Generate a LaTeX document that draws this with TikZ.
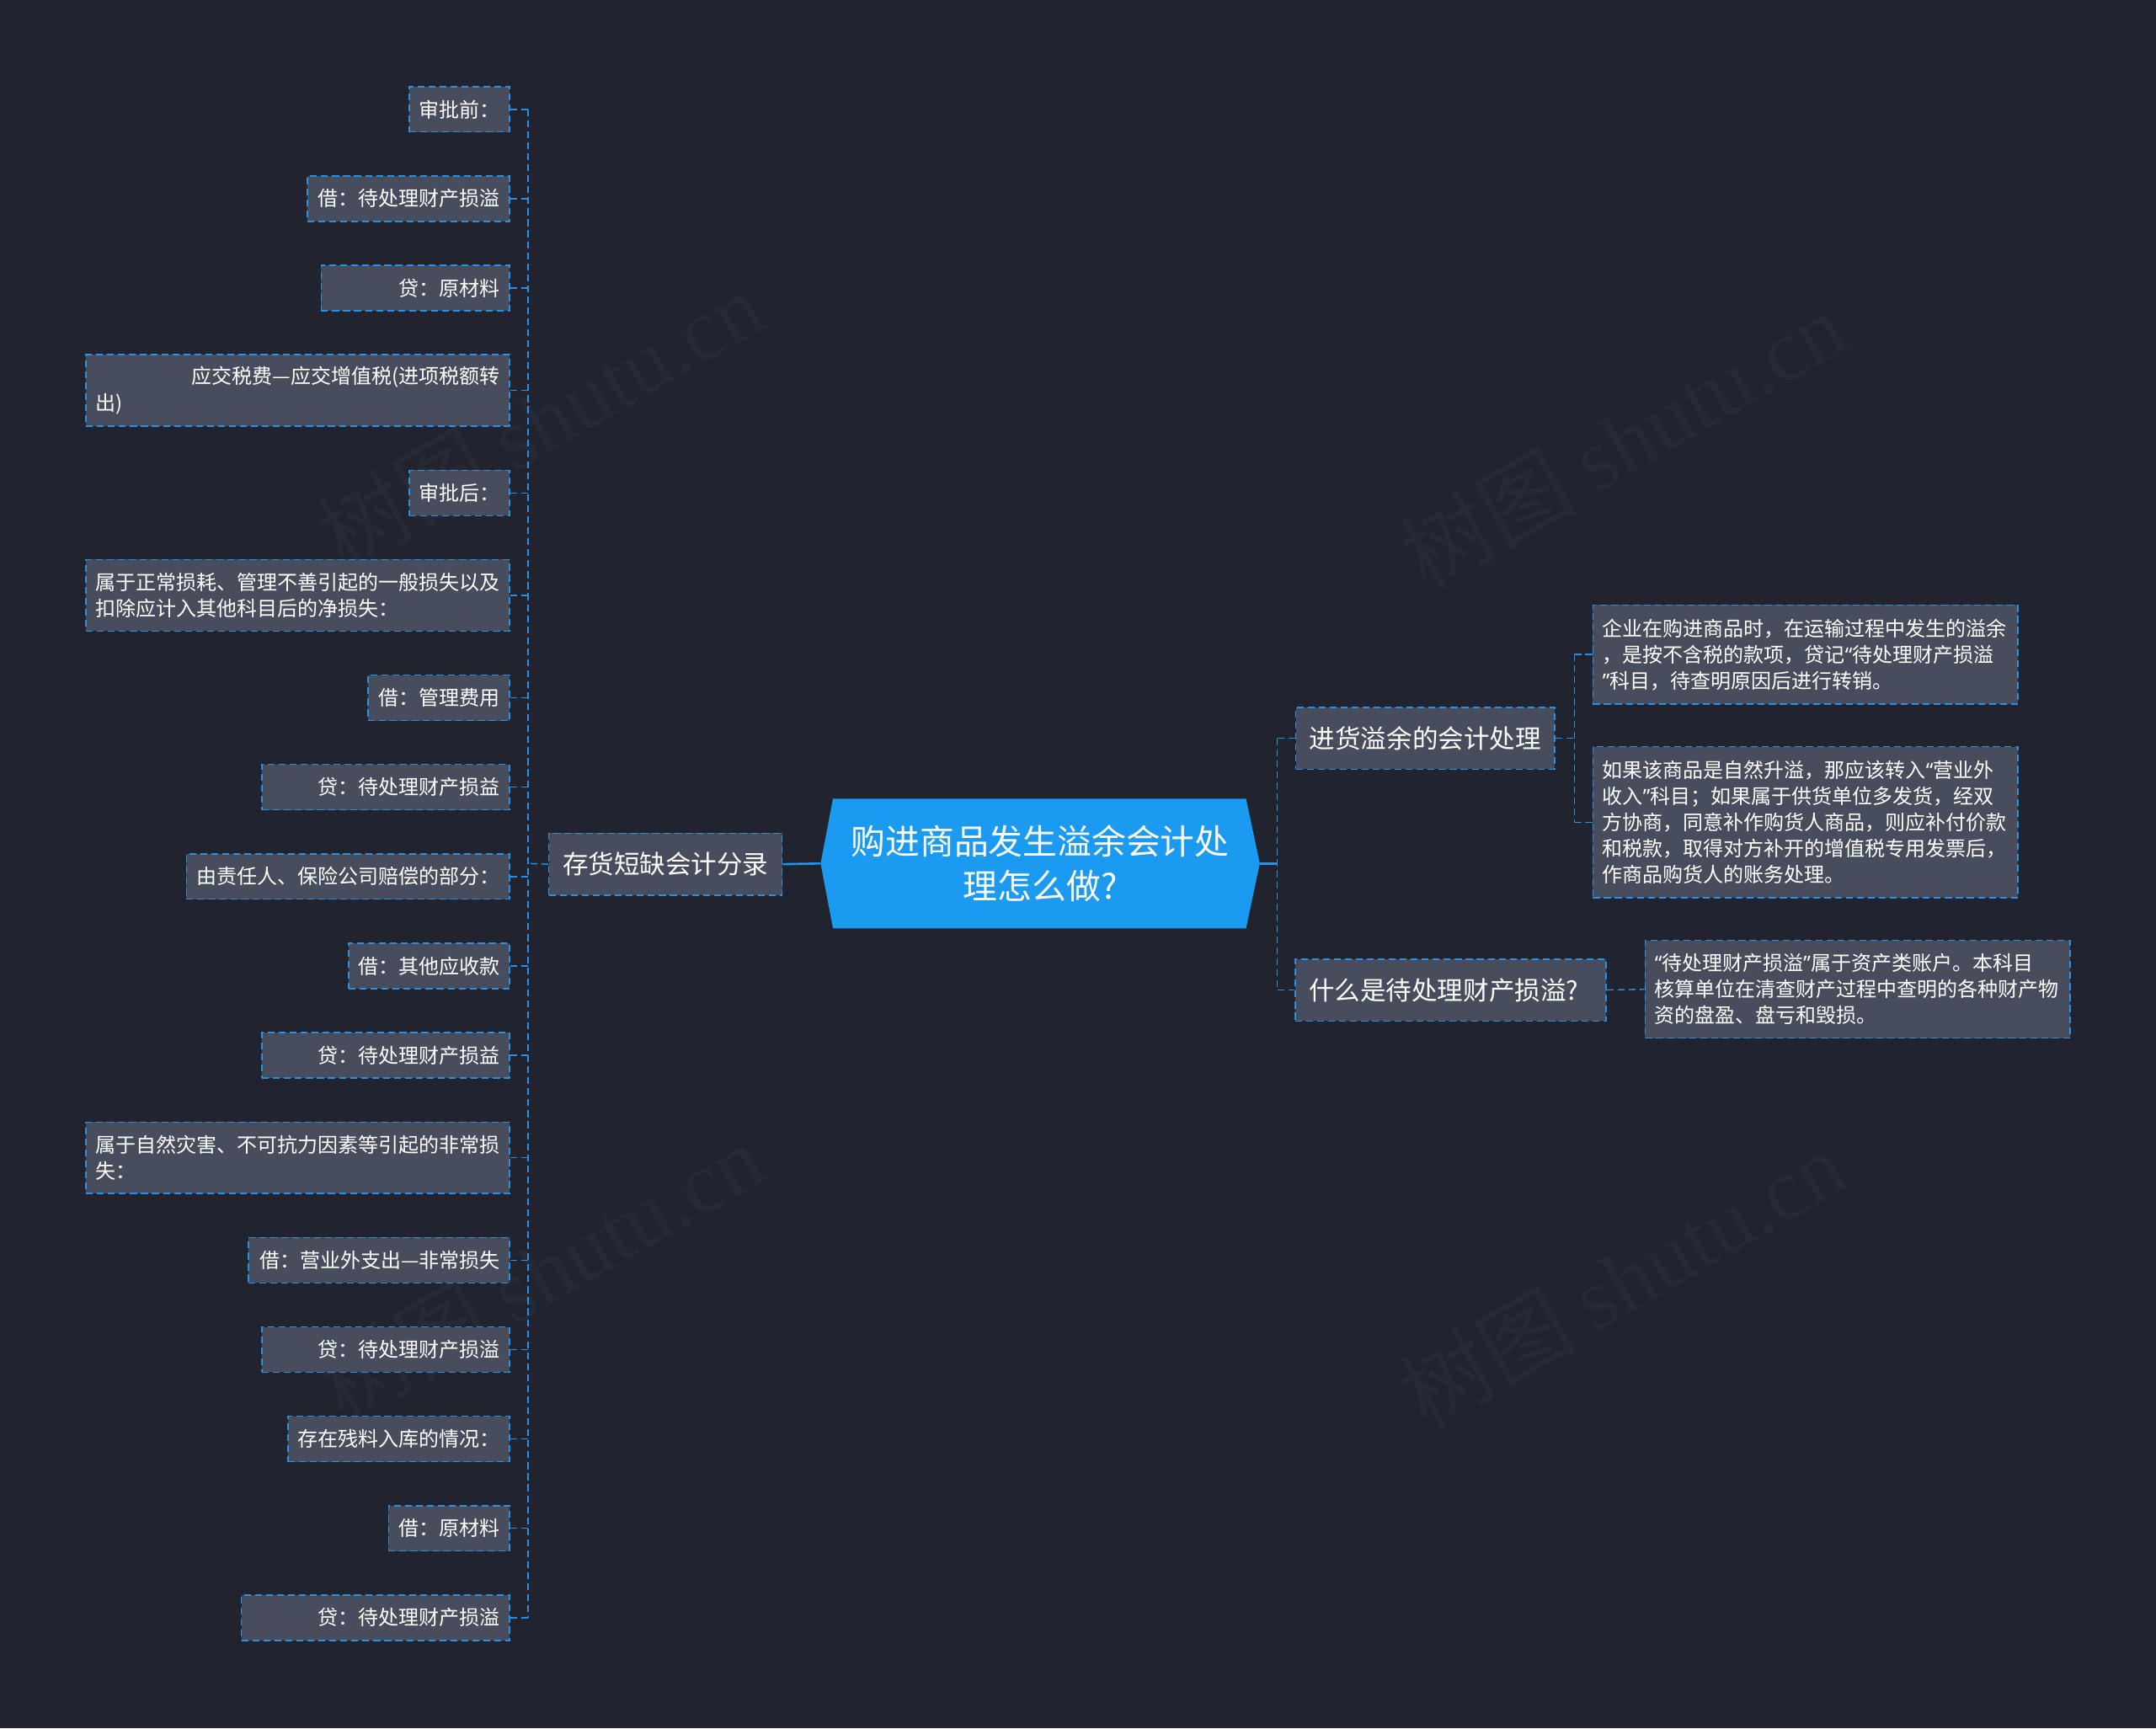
\documentclass[tikz,border=0pt]{standalone}
\usepackage{fontspec}
\newfontfamily\cjk{Noto Sans CJK SC}
\newfontfamily\markfont{Liberation Serif}
\newfontfamily\latinq{Noto Sans}
\newcommand{\qopen}{{\latinq “}}
\newcommand{\qclose}{{\latinq ”}}
\usepackage{tikz}
\usetikzlibrary{backgrounds}
\usepackage{xcolor}
\definecolor{pagedark}{RGB}{33, 36, 47}
\definecolor{cardgray}{RGB}{71, 77, 92}
\definecolor{linkblue}{RGB}{38, 145, 230}
\definecolor{rootblue}{RGB}{26, 154, 240}
\definecolor{markgray}{RGB}{38, 42, 54}

\begin{document}
\begin{tikzpicture}[x=1pt, y=-1pt, every node/.style={text=white},
    leafbox/.style={draw=linkblue, fill=cardgray, line width=0.9pt,
      dash pattern=on 5pt off 3pt, inner xsep=7pt, inner ysep=6pt,
      minimum height=33pt, font=\cjk\fontsize{14.7}{19}\selectfont},
    branchbox/.style={leafbox, inner xsep=10pt, minimum height=45pt,
      font=\cjk\fontsize{18.7}{24}\selectfont},
    rootbox/.style={minimum width=319pt, minimum height=94pt, inner sep=0pt,
      align=center, font=\cjk\fontsize{25}{33}\selectfont},
    markbox/.style={rotate=30, text=markgray, font=\fontsize{64}{64}\selectfont},
    link/.style={draw=linkblue, line width=0.9pt, dash pattern=on 5pt off 3pt},
    rootlink/.style={draw=linkblue, line width=1.6pt}]
  \useasboundingbox (0,0) rectangle (1568,1257);

  % Root
  \node[rootbox] (root) at (756.5,628) {购进商品发生溢余会计处\\理怎么做?};

  % Left branch
  \node[branchbox] (stock) at (484,628.5) {存货短缺会计分录};

  \node[leafbox, anchor=east, text width=59pt, align=right] (l1) at (371,79.5) {审批前：};
  \node[leafbox, anchor=east, text width=133pt, align=right] (l2) at (371,144.5) {借：待处理财产损溢};
  \node[leafbox, anchor=east, text width=123pt, align=right] (l3) at (371,209.5) {贷：原材料};
  \node[leafbox, anchor=east, text width=294pt, align=left, minimum height=52pt] (l4) at (371,284)
    {\hfill 应交税费—应交增值税(进项税额转\\出)};
  \node[leafbox, anchor=east, text width=59pt, align=right] (l5) at (371,358.5) {审批后：};
  \node[leafbox, anchor=east, text width=294pt, align=left, minimum height=52pt] (l6) at (371,433)
    {属于正常损耗、管理不善引起的一般损失以及\\扣除应计入其他科目后的净损失：};
  \node[leafbox, anchor=east, text width=89pt, align=right] (l7) at (371,507.5) {借：管理费用};
  \node[leafbox, anchor=east, text width=166pt, align=right] (l8) at (371,572.5) {贷：待处理财产损益};
  \node[leafbox, anchor=east, text width=221pt, align=right] (l9) at (371,637.5) {由责任人、保险公司赔偿的部分：};
  \node[leafbox, anchor=east, text width=103pt, align=right] (l10) at (371,702.5) {借：其他应收款};
  \node[leafbox, anchor=east, text width=166pt, align=right] (l11) at (371,767.5) {贷：待处理财产损益};
  \node[leafbox, anchor=east, text width=294pt, align=left, minimum height=52pt] (l12) at (371,842)
    {属于自然灾害、不可抗力因素等引起的非常损\\失：};
  \node[leafbox, anchor=east, text width=176pt, align=right] (l13) at (371,916.5) {借：营业外支出—非常损失};
  \node[leafbox, anchor=east, text width=166pt, align=right] (l14) at (371,981.5) {贷：待处理财产损溢};
  \node[leafbox, anchor=east, text width=147pt, align=right] (l15) at (371,1046.5) {存在残料入库的情况：};
  \node[leafbox, anchor=east, text width=74pt, align=right] (l16) at (371,1111.5) {借：原材料};
  \node[leafbox, anchor=east, text width=181pt, align=right] (l17) at (371,1176.5) {贷：待处理财产损溢};

  % Right branches
  \node[branchbox] (surplus) at (1036.5,537) {进货溢余的会计处理};
  \node[branchbox, text width=206pt, align=left] (pending) at (1055,720) {什么是待处理财产损溢?};

  \node[leafbox, anchor=west, text width=295pt, align=left, minimum height=72pt] (inflow) at (1158,476)
    {企业在购进商品时，在运输过程中发生的溢余\\，是按不含税的款项，贷记\qopen 待处理财产损溢\\\qclose 科目，待查明原因后进行转销。};
  \node[leafbox, anchor=west, text width=295pt, align=left, minimum height=110pt] (gain) at (1158,598)
    {如果该商品是自然升溢，那应该转入\qopen 营业外\\收入\qclose 科目；如果属于供货单位多发货，经双\\方协商，同意补作购货人商品，则应补付价款\\和税款，取得对方补开的增值税专用发票后，\\作商品购货人的账务处理。};
  \node[leafbox, anchor=west, text width=295pt, align=left, minimum height=71pt] (define) at (1196,719.5)
    {\qopen 待处理财产损溢\qclose 属于资产类账户。本科目\\核算单位在清查财产过程中查明的各种财产物\\资的盘盈、盘亏和毁损。};

  % Page, watermark and root shape
  \begin{scope}[on background layer]
    \fill[pagedark] (0,0) rectangle (1568,1257);
    \node[markbox] (mark1) at (393,305) {\cjk 树图 \markfont shutu.cn};
    \node[markbox] (mark2) at (1180,320) {\cjk 树图 \markfont shutu.cn};
    \node[markbox] (mark3) at (393,925) {\cjk 树图 \markfont shutu.cn};
    \node[markbox] (mark4) at (1180,930) {\cjk 树图 \markfont shutu.cn};
    \fill[rootblue] ([xshift=9pt]root.north west) -- ([xshift=-10pt]root.north east) -- (root.east)
      -- ([xshift=-10pt]root.south east) -- ([xshift=9pt]root.south west) -- (root.west) -- cycle;
  \end{scope}

  % Left connectors
  \coordinate (lspine) at (384,628);
  \draw[rootlink] (root.west) -- (stock.east);
  \draw[link] (stock.west) -- (lspine);
  \draw[link] (l1.east -| lspine) -- (l17.east -| lspine);
  \draw[link] (l1.east) -- (l1.east -| lspine);
  \draw[link] (l2.east) -- (l2.east -| lspine);
  \draw[link] (l3.east) -- (l3.east -| lspine);
  \draw[link] (l4.east) -- (l4.east -| lspine);
  \draw[link] (l5.east) -- (l5.east -| lspine);
  \draw[link] (l6.east) -- (l6.east -| lspine);
  \draw[link] (l7.east) -- (l7.east -| lspine);
  \draw[link] (l8.east) -- (l8.east -| lspine);
  \draw[link] (l9.east) -- (l9.east -| lspine);
  \draw[link] (l10.east) -- (l10.east -| lspine);
  \draw[link] (l11.east) -- (l11.east -| lspine);
  \draw[link] (l12.east) -- (l12.east -| lspine);
  \draw[link] (l13.east) -- (l13.east -| lspine);
  \draw[link] (l14.east) -- (l14.east -| lspine);
  \draw[link] (l15.east) -- (l15.east -| lspine);
  \draw[link] (l16.east) -- (l16.east -| lspine);
  \draw[link] (l17.east) -- (l17.east -| lspine);

  % Right connectors
  \coordinate (rspine) at (929,628);
  \draw[rootlink] (root.east) -- (rspine);
  \draw[link] (surplus.west -| rspine) -- (pending.west -| rspine);
  \draw[link] (surplus.west -| rspine) -- (surplus.west);
  \draw[link] (pending.west -| rspine) -- (pending.west);

  \coordinate (aspine) at (1145,537);
  \draw[link] (surplus.east) -- (aspine);
  \draw[link] (inflow.west -| aspine) -- (gain.west -| aspine);
  \draw[link] (inflow.west -| aspine) -- (inflow.west);
  \draw[link] (gain.west -| aspine) -- (gain.west);
  \draw[link] (pending.east) -- (define.west);
\end{tikzpicture}
\end{document}
